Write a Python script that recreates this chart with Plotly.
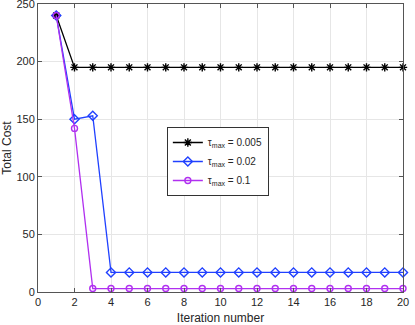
import plotly.graph_objects as go

iterations = list(range(1, 21))
cost_0005 = [240] + [195] * 19
cost_002 = [240, 150, 153] + [17] * 17
cost_01 = [240, 142] + [3] * 18

series = [
    ("τ<sub>max</sub> = 0.005", cost_0005, "#000000", "asterisk-open", 7),
    ("τ<sub>max</sub> = 0.02", cost_002, "#2040ff", "diamond-open", 7),
    ("τ<sub>max</sub> = 0.1", cost_01, "#b030f0", "circle-open", 6),
]

fig = go.Figure()
for name, values, color, symbol, size in series:
    fig.add_trace(
        go.Scatter(
            x=iterations,
            y=values,
            mode="lines+markers",
            name=name,
            line={"color": color, "width": 1.3},
            marker={"symbol": symbol, "size": size, "color": color,
                    "line": {"color": color, "width": 1.4}},
            cliponaxis=False,
        )
    )

axis_style = dict(
    automargin=False,
    showline=True,
    linecolor="#555555",
    linewidth=1,
    mirror="ticks",
    ticks="inside",
    ticklen=4,
    tickcolor="#555555",
    showgrid=True,
    gridcolor="#e6e6e6",
    zeroline=False,
    ticklabeloverflow="allow",
    tickfont={"size": 11, "color": "#262626"},
)

fig.update_layout(
    width=415,
    height=325,
    margin={"l": 38, "r": 12, "t": 4, "b": 33},
    paper_bgcolor="white",
    plot_bgcolor="white",
    font={"family": "Liberation Sans, Arial, sans-serif", "color": "#262626"},
    showlegend=True,
    legend={
        "x": 0.353,
        "y": 0.573,
        "xanchor": "left",
        "yanchor": "top",
        "bgcolor": "white",
        "bordercolor": "#333333",
        "borderwidth": 1,
        "font": {"size": 10},
        "tracegroupgap": 0,
        "itemwidth": 30,
    },
)
fig.update_xaxes(title_text="Iteration number", title_font={"size": 12},
                 range=[0, 20], dtick=2, **axis_style)
fig.update_yaxes(title_text="Total Cost", title_font={"size": 12},
                 range=[0, 250], dtick=50, **axis_style)

# page body has a default 8px margin, drop it so the figure fills the window
fig.write_html("out.html", config={"displayModeBar": False},
               post_script="document.body.style.margin='0';")
